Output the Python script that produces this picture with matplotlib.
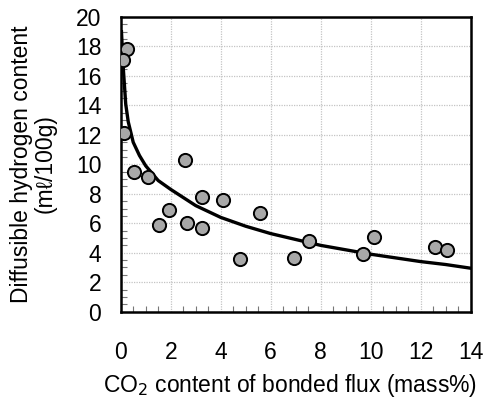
import matplotlib
matplotlib.use("Agg")
import matplotlib.pyplot as plt
from matplotlib.ticker import MultipleLocator

# Measured points
co2 = [0.24, 0.10, 0.13, 0.53, 1.08, 2.59, 1.92, 1.53, 2.65, 3.25, 3.27, 4.10,
       4.79, 5.57, 6.95, 7.55, 9.68, 10.12, 12.57, 13.04]
hydrogen = [17.8, 17.1, 12.1, 9.5, 9.15, 10.3, 6.9, 5.9, 6.0, 7.8, 5.7, 7.6,
            3.55, 6.7, 3.65, 4.8, 3.9, 5.1, 4.4, 4.2]

# Trend curve
curve_x = [0.03, 0.1, 0.2, 0.3, 0.5, 0.75, 1.0, 1.5, 2.0, 3.0, 4.0, 5.0, 6.0,
           7.0, 8.0, 9.0, 10.0, 11.0, 12.0, 13.0, 14.0]
curve_y = [19.0, 16.6, 14.1, 12.9, 11.5, 10.6, 9.9, 8.9, 8.3, 7.2, 6.4, 5.8,
           5.3, 4.9, 4.5, 4.2, 3.9, 3.65, 3.4, 3.2, 2.95]

x_ticks = [0, 2, 4, 6, 8, 10, 12, 14]
y_ticks = [0, 2, 4, 6, 8, 10, 12, 14, 16, 18, 20]

plt.rcParams['font.family'] = ['Liberation Sans', 'Noto Sans CJK JP', 'DejaVu Sans']

fig = plt.figure(figsize=(4.84, 4.0), dpi=100)
ax = fig.add_axes([0.2494, 0.2208, 0.7231, 0.7367])

ax.set_xlim(0, 14)
ax.set_ylim(0, 20)
ax.set_xticks(x_ticks)
ax.set_yticks(y_ticks)
ax.xaxis.set_minor_locator(MultipleLocator(0.5))
ax.yaxis.set_minor_locator(MultipleLocator(0.5))
ax.grid(True, which='major', color='#c4c4c4', linestyle=(0, (1, 1)), linewidth=0.9)
ax.set_axisbelow(True)
ax.tick_params(axis='both', which='major', direction='in', length=0, labelsize=16.5)
ax.tick_params(axis='both', which='minor', direction='in', length=4, width=0.8, color='#777777')
ax.tick_params(axis='x', which='major', pad=21)
ax.tick_params(axis='y', which='major', pad=14)

for s in ax.spines.values():
    s.set_linewidth(1.8)
    s.set_color('black')

ax.plot(curve_x, curve_y, color='black', linewidth=2.4, zorder=3)
ax.plot(co2, hydrogen, linestyle='none', marker='o', markersize=9.5,
        markerfacecolor='#a8a8a8', markeredgecolor='black', markeredgewidth=1.4, zorder=4)

fig.text(0.60, 0.037, 'CO$_2$ content of bonded flux (mass%)', ha='center', va='center', fontsize=16.5)
fig.text(0.044, 0.59, 'Diffusible hydrogen content', rotation=90, ha='center', va='center', fontsize=16.5)
fig.text(0.093, 0.59, '(m\u2113/100g)', rotation=90, ha='center', va='center', fontsize=16.5)

fig.savefig('out.png', dpi=100)
